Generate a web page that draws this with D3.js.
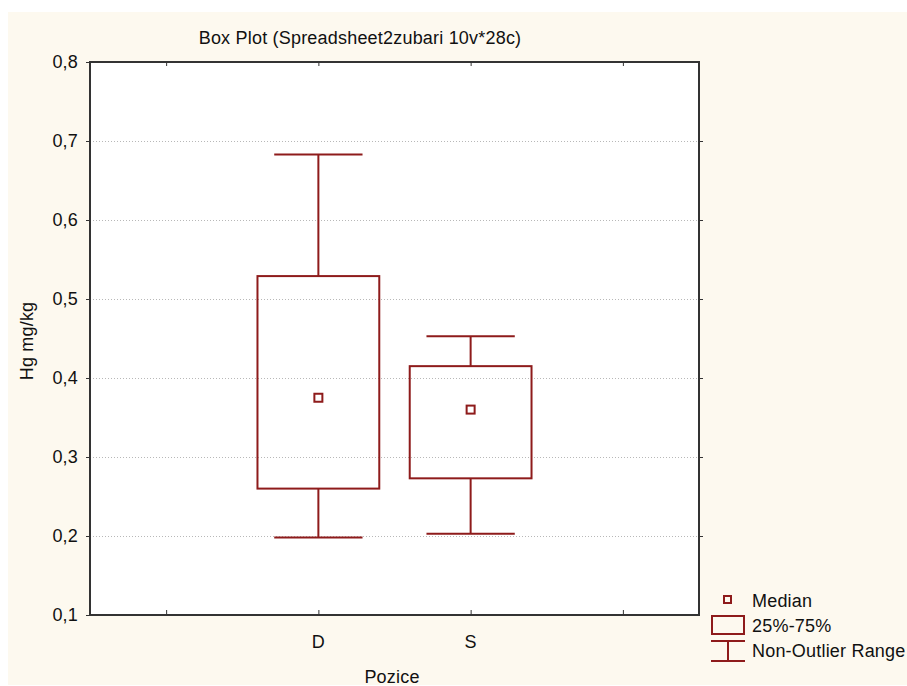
<!DOCTYPE html>
<html lang="en">

<head>
    <meta charset="utf-8">
    <script src='https://d3js.org/d3.v7.min.js'></script>
    <style>
        body { margin: 0; background: #ffffff; }
        text { font-family: "Liberation Sans", Arial, sans-serif; fill: #111; font-size: 18px; letter-spacing: 0.2px; }
    </style>
</head>

<body>
    <script>
        // data
        const categories = ["D", "S"];
        const catPos = [2, 3];               // positions on the x axis (0.5 .. 4.5)
        const whiskerLow = [0.198, 0.203];
        const q1 = [0.260, 0.273];
        const median = [0.375, 0.360];
        const q3 = [0.529, 0.415];
        const whiskerHigh = [0.683, 0.453];
        const yTicks = [0.1, 0.2, 0.3, 0.4, 0.5, 0.6, 0.7, 0.8];
        const xTicks = [1, 2, 3, 4];

        const width = 907,
            height = 686;
        const red = "#8e1b1b";

        const svg = d3.select("body")
            .append("svg")
            .attr("width", width)
            .attr("height", height);

        // cream panel behind the chart
        svg.append("rect")
            .attr("x", 8).attr("y", 12)
            .attr("width", width - 8).attr("height", height - 13)
            .attr("fill", "#fdf9ef");

        const plotL = 90, plotR = 699, plotT = 62, plotB = 615;

        const x = d3.scaleLinear().domain([0.5, 4.5]).range([plotL, plotR]);
        const y = d3.scaleLinear().domain([0.1, 0.8]).range([plotB, plotT]);

        // plot area
        svg.append("rect")
            .attr("x", plotL).attr("y", plotT)
            .attr("width", plotR - plotL).attr("height", plotB - plotT)
            .attr("fill", "#ffffff");

        // dotted grid
        svg.append("g")
            .selectAll("line")
            .data(yTicks.slice(1, -1))
            .enter()
            .append("line")
            .attr("x1", plotL).attr("x2", plotR)
            .attr("y1", d => Math.round(y(d)) + 0.5)
            .attr("y2", d => Math.round(y(d)) + 0.5)
            .attr("stroke", "#b8b8b8")
            .attr("stroke-width", 1)
            .attr("stroke-dasharray", "1,2");

        // axes
        const fmt = d => d3.format(".1f")(d).replace(".", ",");

        const yAxis = svg.append("g")
            .attr("transform", "translate(" + plotL + ",0)")
            .call(d3.axisLeft(y).tickValues(yTicks).tickFormat(fmt).tickSize(4).tickPadding(8));
        yAxis.select(".domain").remove();
        yAxis.attr("font-family", null).attr("font-size", null);
        yAxis.selectAll("text").attr("fill", "#111");
        yAxis.selectAll("line").attr("stroke", "#333");

        svg.append("g")
            .attr("transform", "translate(" + plotR + ",0)")
            .call(d3.axisLeft(y).tickValues(yTicks.slice(1, -1)).tickFormat("").tickSize(-4))
            .call(g => g.select(".domain").remove())
            .selectAll("line").attr("stroke", "#333");

        const xAxis = svg.append("g")
            .attr("transform", "translate(0," + plotB + ")")
            .call(d3.axisTop(x).tickValues(xTicks).tickFormat("").tickSize(5));
        xAxis.select(".domain").remove();
        xAxis.selectAll("line").attr("stroke", "#333");

        svg.append("g")
            .attr("transform", "translate(0," + plotT + ")")
            .call(d3.axisBottom(x).tickValues(xTicks).tickFormat("").tickSize(4))
            .call(g => g.select(".domain").remove())
            .selectAll("line").attr("stroke", "#333");

        // frame
        svg.append("rect")
            .attr("x", plotL).attr("y", plotT)
            .attr("width", plotR - plotL).attr("height", plotB - plotT)
            .attr("fill", "none")
            .attr("stroke", "#333")
            .attr("stroke-width", 2);

        // category labels
        svg.selectAll(".cat")
            .data(categories)
            .enter()
            .append("text")
            .attr("class", "cat")
            .attr("x", (d, i) => x(catPos[i]))
            .attr("y", 648)
            .attr("text-anchor", "middle")
            .text(d => d);

        // titles
        svg.append("text")
            .attr("x", 360).attr("y", 44)
            .attr("text-anchor", "middle")
            .text("Box Plot (Spreadsheet2zubari 10v*28c)");

        svg.append("text")
            .attr("x", 392).attr("y", 683)
            .attr("text-anchor", "middle")
            .text("Pozice");

        svg.append("text")
            .attr("transform", "translate(33," + 341 + ") rotate(-90)")
            .attr("text-anchor", "middle")
            .text("Hg mg/kg");

        // boxes
        const step = x(2) - x(1);
        const boxW = step * 0.8;
        const capW = step * 0.58;
        const boxes = svg.append("g")
            .attr("stroke", red)
            .attr("stroke-width", 2)
            .attr("fill", "none");

        categories.forEach(function (c, i) {
            const cx = x(catPos[i]);
            const g = boxes.append("g");
            g.append("line")
                .attr("x1", cx).attr("x2", cx)
                .attr("y1", y(whiskerHigh[i])).attr("y2", y(q3[i]));
            g.append("line")
                .attr("x1", cx).attr("x2", cx)
                .attr("y1", y(q1[i])).attr("y2", y(whiskerLow[i]));
            g.append("line")
                .attr("x1", cx - capW / 2).attr("x2", cx + capW / 2)
                .attr("y1", y(whiskerHigh[i])).attr("y2", y(whiskerHigh[i]));
            g.append("line")
                .attr("x1", cx - capW / 2).attr("x2", cx + capW / 2)
                .attr("y1", y(whiskerLow[i])).attr("y2", y(whiskerLow[i]));
            g.append("rect")
                .attr("x", cx - boxW / 2).attr("y", y(q3[i]))
                .attr("width", boxW).attr("height", y(q1[i]) - y(q3[i]));
            g.append("rect")
                .attr("x", cx - 4).attr("y", y(median[i]) - 4)
                .attr("width", 8).attr("height", 8);
        });

        // legend
        const lg = svg.append("g");
        lg.append("rect")
            .attr("x", 724).attr("y", 596).attr("width", 7).attr("height", 7)
            .attr("fill", "none").attr("stroke", red).attr("stroke-width", 2);
        lg.append("rect")
            .attr("x", 712).attr("y", 616).attr("width", 32).attr("height", 18)
            .attr("fill", "none").attr("stroke", red).attr("stroke-width", 2);
        lg.append("line")
            .attr("x1", 711).attr("x2", 745).attr("y1", 641).attr("y2", 641)
            .attr("stroke", red).attr("stroke-width", 2);
        lg.append("line")
            .attr("x1", 711).attr("x2", 745).attr("y1", 661).attr("y2", 661)
            .attr("stroke", red).attr("stroke-width", 2);
        lg.append("line")
            .attr("x1", 728).attr("x2", 728).attr("y1", 641).attr("y2", 661)
            .attr("stroke", red).attr("stroke-width", 2);

        const legendText = ["Median", "25%-75%", "Non-Outlier Range"];
        lg.selectAll("text")
            .data(legendText)
            .enter()
            .append("text")
            .attr("x", 752)
            .attr("y", (d, i) => [607, 632, 657][i])
            .text(d => d);
    </script>
</body>

</html>
